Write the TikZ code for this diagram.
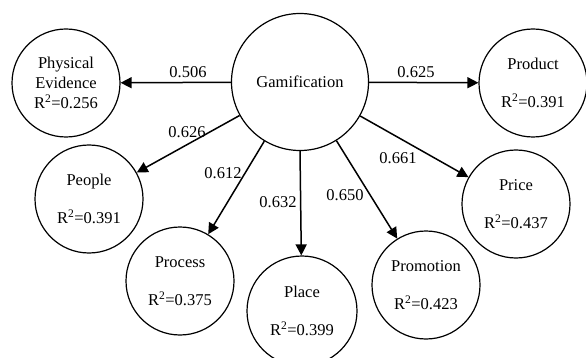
\documentclass[tikz,border=0pt]{standalone}
\usepackage{fontspec}
\setmainfont{Liberation Serif}
\usetikzlibrary{arrows.meta,positioning}

\begin{document}
\begin{tikzpicture}[
  x=1pt,y=-1pt,
  font=\fontsize{16.5}{20}\selectfont,
  construct/.style={draw,circle,line width=1.2pt,minimum size=108pt,inner sep=0pt,align=center},
  path/.style={line width=1.5pt,-{Triangle[length=11pt,width=11pt]}},
  coef/.style={inner sep=1pt}
]
  \useasboundingbox (0,0) rectangle (586,358);

  % constructs
  \node[construct,minimum size=137pt] (gam) at (300,82) {Gamification};
  \node[construct] (phys) at (66,83) {Physical\\Evidence\\R\textsuperscript{2}=0.256};
  \node[construct] (prod) at (533,83) {Product\\[18pt]R\textsuperscript{2}=0.391};
  \node[construct] (peop) at (89,199) {People\\[18pt]R\textsuperscript{2}=0.391};
  \node[construct] (proc) at (180,281) {Process\\[18pt]R\textsuperscript{2}=0.375};
  \node[construct,minimum size=110pt] (plac) at (302,311) {Place\\[18pt]R\textsuperscript{2}=0.399};
  \node[construct] (prom) at (426,285) {Promotion\\[18pt]R\textsuperscript{2}=0.423};
  \node[construct] (pric) at (516,204) {Price\\[18pt]R\textsuperscript{2}=0.437};

  % paths
  \draw[path] (gam) -- (phys);
  \draw[path] (gam) -- (prod);
  \draw[path] (gam) -- (peop);
  \draw[path] (gam) -- (proc);
  \draw[path] (gam.south) -- (plac);
  \draw[path] (gam) -- (prom);
  \draw[path] (gam) -- (pric);

  % coefficients
  \node[coef] (c506) at (188,72) {0.506};
  \node[coef] (c625) at (416,72) {0.625};
  \node[coef] (c626) at (187,132) {0.626};
  \node[coef] (c612) at (223,173) {0.612};
  \node[coef] (c632) at (278,202) {0.632};
  \node[coef] (c650) at (345,195) {0.650};
  \node[coef] (c661) at (398,158) {0.661};
\end{tikzpicture}
\end{document}
